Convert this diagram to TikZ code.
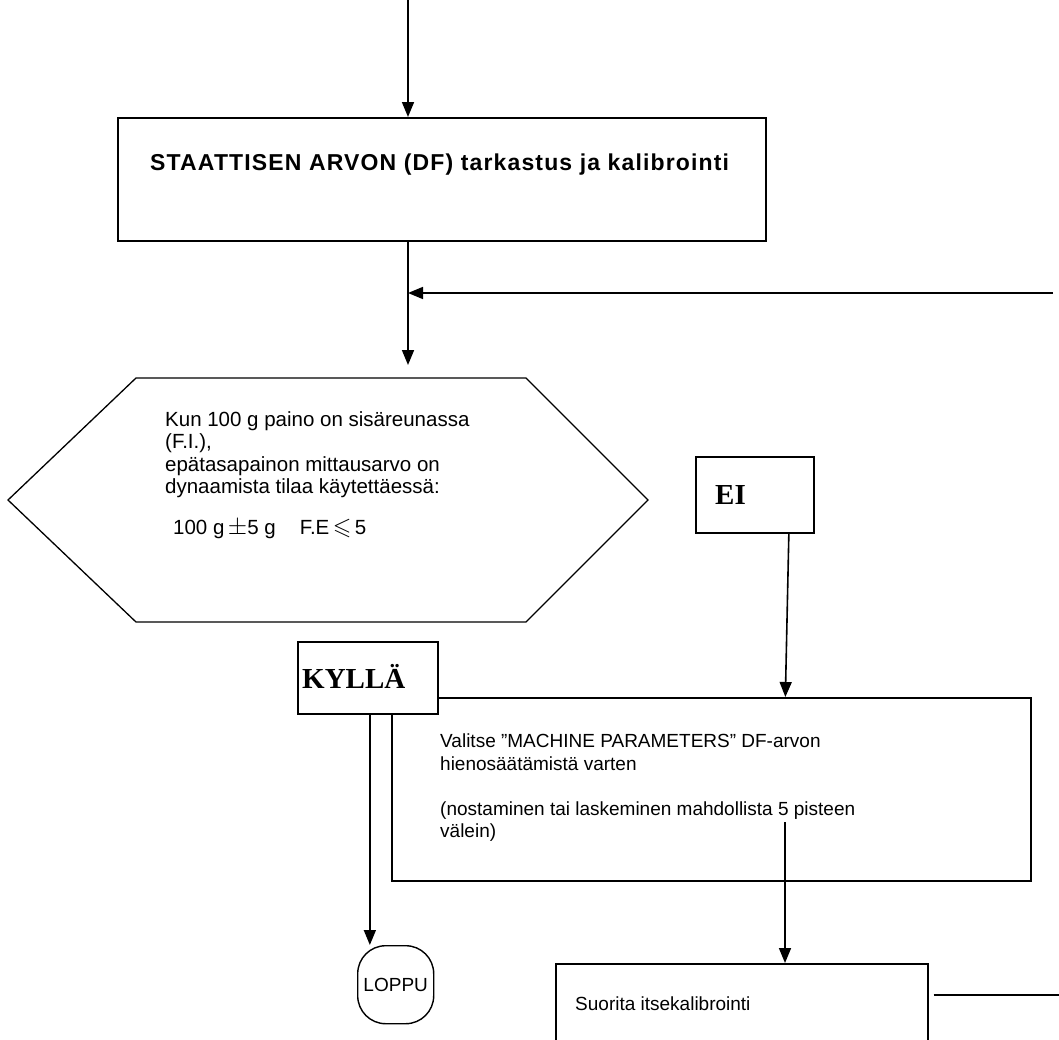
\documentclass[tikz,border=0pt]{standalone}
\usepackage{amssymb}
\usepackage{fontspec}
\setmainfont{Liberation Sans}
\newfontfamily\serifbold{Liberation Serif}[BoldFont={Liberation Serif Bold}]
\newfontfamily\titlefont{Liberation Sans}[LetterSpace=5]
\usetikzlibrary{positioning, calc, arrows.meta}

\tikzset{
  box/.style={draw, line width=1.7pt, anchor=north west, inner sep=0pt},
  txt/.style={anchor=base west, inner sep=0pt, font=\fontsize{19}{22}\selectfont},
  hextxt/.style={txt, font=\fontsize{20.5}{22}\selectfont},
  flow/.style={line width=1.6pt},
  arr/.style={flow, -{Triangle[length=15pt, width=12pt]}},
}

\begin{document}
\begin{tikzpicture}[x=1pt, y=-1pt]
    \useasboundingbox (0,0) rectangle (1059,1039);
    % staattinen arvo
    \coordinate (start) at (408,0);
    \node[box, minimum width=648pt, minimum height=123pt] (check) at (117,117) {};
    \node[txt, font=\fontsize{23}{26}\titlefont\bfseries] (checktxt) at (150,170) {STAATTISEN ARVON (DF) tarkastus ja kalibrointi};
    \draw[arr] (start) -- (start |- check.north);
    \coordinate (join) at (408,365);
    \draw[arr] (start |- check.south) -- (join);
    \coordinate (back) at (1053,293);
    \draw[arr] (back) -- (back -| start);
    % kuusikulmio
    \coordinate (hl) at (8,500);
    \coordinate (htl) at (136,378);
    \coordinate (htr) at (526,378);
    \coordinate (hr) at (648,500);
    \coordinate (hbr) at (526,622);
    \coordinate (hbl) at (136,622);
    \draw[line width=1.3pt] (hl) -- (htl) -- (htr) -- (hr) -- (hbr) -- (hbl) -- cycle;
    \node[hextxt] (q1) at (165,426) {Kun 100 g paino on sisäreunassa};
    \node[hextxt] (q2) at (165,448) {(F.I.),};
    \node[hextxt] (q3) at (165,471) {epätasapainon mittausarvo on};
    \node[hextxt] (q4) at (165,493) {dynaamista tilaa käytettäessä:};
    \node[hextxt] (q5) at (173,534) {100 g\,{\fontsize{25}{25}\selectfont$\pm$}5 g\hspace{24pt}F.E\,{\fontsize{24}{24}\selectfont$\leqslant$}\,5};
    % vastaukset
    \node[box, minimum width=118pt, minimum height=76pt] (ei) at (695,456) {};
    \node[txt, font=\fontsize{29}{32}\serifbold\bfseries] (eitxt) at (715,504) {EI};
    % parametrit
    \node[box, minimum width=639pt, minimum height=183pt] (param) at (391,697) {};
    \node[box, fill=white, minimum width=140pt, minimum height=72pt] (kylla) at (297,641) {};
    \node[txt, font=\fontsize{29}{32}\serifbold\bfseries] (kyllatxt) at (302,688) {KYLLÄ};
    \node[txt] (p1) at (440,747) {Valitse "MACHINE PARAMETERS" DF-arvon};
    \node[txt] (p2) at (440,770) {hienosäätämistä varten};
    \node[txt] (p3) at (440,815) {(nostaminen tai laskeminen mahdollista 5 pisteen};
    \node[txt] (p4) at (440,837) {välein)};
    \draw[arr] ([xshift=34pt]ei.south) -- ([xshift=74pt]param.north);
    % loppu ja itsekalibrointi
    \node[draw, line width=1.4pt, rounded corners=28pt, minimum width=76pt, minimum height=78pt,
          anchor=north west, font=\fontsize{19}{22}\selectfont] (loppu) at (357,945) {LOPPU};
    \draw[arr] ([xshift=2pt]kylla.south) -- ([xshift=2pt]kylla.south |- loppu.north);
    \node[box, minimum width=372pt, minimum height=100pt] (self) at (555,963) {};
    \node[txt] (s1) at (575,1010) {Suorita itsekalibrointi};
    \coordinate (pout) at (785,822);
    \draw[arr] (pout) -- (pout |- self.north);
    \coordinate (selfout) at (1059,995);
    \draw[flow] ([xshift=5pt]self.east |- selfout) -- (selfout);
\end{tikzpicture}
\end{document}
